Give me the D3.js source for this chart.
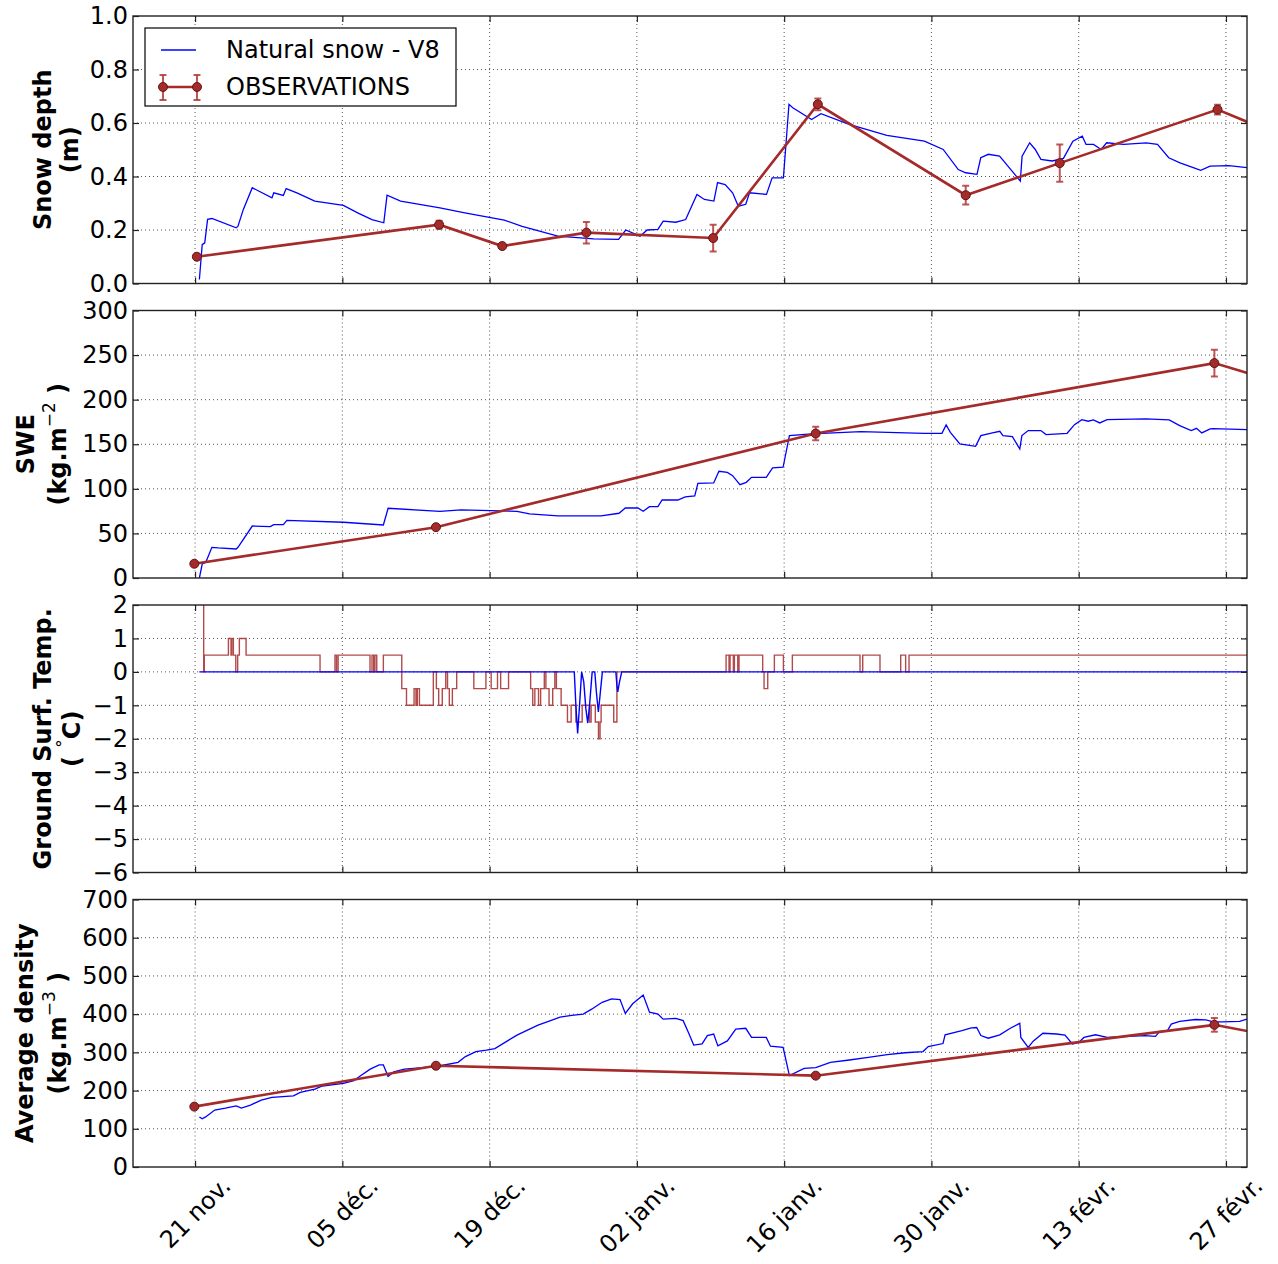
<!DOCTYPE html>
<html><head><meta charset="utf-8">
<script src="https://cdn.jsdelivr.net/npm/d3@7"></script>
<style>
body{margin:0;background:#fff}
svg{display:block}
text{font-family:"DejaVu Sans",sans-serif;fill:#000}
</style>
</head><body>
<svg id="c" width="1278" height="1264"></svg>
<script>
// ---------------- DATA ----------------
// days are counted from 21 nov. 2013 00:00
const baseDate = new Date(2013, 10, 21);
const xRangeDays = [-5.9, 100];
const tickDays = [0, 14, 28, 42, 56, 70, 84, 98];
const tickLabels = ["21 nov.", "05 déc.", "19 déc.", "02 janv.", "16 janv.", "30 janv.", "13 févr.", "27 févr."];

const legendLabels = ["Natural snow - V8", "OBSERVATIONS"];

// Panel 1 : snow depth (m) – model
const depthModel = [[0.41,0.015],[0.68,0.145],[0.92,0.152],[1.19,0.24],[1.6,0.243],[3.91,0.208],[4.08,0.214],[4.59,0.277],[5.44,0.358],[7.31,0.32],[7.48,0.339],[8.39,0.329],[8.66,0.355],[9.68,0.339],[11.38,0.308],[14.1,0.292],[15.46,0.264],[16.82,0.239],[17.94,0.227],[18.25,0.33],[19.54,0.308],[23.28,0.283],[25.65,0.264],[29.39,0.237],[31.09,0.214],[34.49,0.177],[37.89,0.167],[40.26,0.165],[40.94,0.2],[42.3,0.177],[42.98,0.2],[44.0,0.202],[44.5,0.233],[45.7,0.229],[46.64,0.239],[47.71,0.333],[48.42,0.314],[49.32,0.308],[49.67,0.377],[50.39,0.37],[51.1,0.339],[51.64,0.289],[52.35,0.296],[52.71,0.339],[54.32,0.333],[54.86,0.395],[55.93,0.395],[56.46,0.67],[56.82,0.657],[58.61,0.613],[59.5,0.635],[62.18,0.595],[65.76,0.554],[69.33,0.532],[71.12,0.501],[72.55,0.426],[73.26,0.414],[74.33,0.408],[74.69,0.47],[75.41,0.483],[76.48,0.476],[77.55,0.426],[78.45,0.383],[78.62,0.476],[79.34,0.526],[79.87,0.501],[80.41,0.464],[81.48,0.458],[82.55,0.468],[83.45,0.532],[84.34,0.551],[84.7,0.52],[85.41,0.52],[86.13,0.501],[86.66,0.526],[88.27,0.52],[90.42,0.526],[91.49,0.52],[92.56,0.47],[93.63,0.451],[94.89,0.433],[95.6,0.423],[96.49,0.439],[98.28,0.441],[100,0.433]];
const depthObsDays = [0.17, 23.2, 29.2, 37.2, 49.25, 59.2, 73.26, 82.2, 97.2, 104];
const depthObs     = [0.10, 0.22, 0.14, 0.19, 0.17, 0.67, 0.33, 0.45, 0.65, 0.54];
const depthErr     = [0, 0.015, 0, 0.04, 0.05, 0.022, 0.035, 0.07, 0.018, 0];

// Panel 2 : SWE (kg m-2)
const sweModel = [[0.41,0],[0.68,15.7],[1.02,17.6],[1.6,34.4],[2.2,33.7],[3.91,32.5],[4.08,34.4],[5.44,58.3],[7.14,57.6],[7.48,59.8],[8.39,59.8],[8.73,64.7],[14.1,62.5],[17.9,59.5],[18.35,78.2],[23.28,74.8],[25.3,76.3],[30.6,74.8],[31.8,71.8],[34.5,69.6],[38.6,69.6],[40.3,72.6],[40.9,78.5],[42.1,78.5],[42.6,74.8],[43.2,80],[44.0,80],[44.4,87.5],[45.9,87.5],[46.6,91],[47.5,92],[47.8,106.2],[49.3,106.6],[49.8,119.7],[50.6,118.5],[51.1,114.8],[51.8,104.7],[52.4,107.3],[52.9,112.9],[54.3,112.9],[54.9,123.4],[55.9,124.2],[56.5,159.7],[58.6,161.6],[63.3,164.2],[69.3,162.3],[71.0,162.3],[71.4,171.7],[71.8,163.4],[72.7,150.3],[74.2,147.7],[74.7,159.7],[75.8,162.7],[76.5,164.5],[76.8,159.7],[77.7,158.6],[78.4,144.7],[78.6,159.7],[79.2,165.3],[80.4,165.3],[80.9,160.8],[82.9,162.3],[83.6,172],[84.3,177.6],[84.9,175.8],[85.4,177.3],[86.0,173.9],[86.7,177.6],[90.4,178.4],[92.6,177.3],[93.6,170.9],[94.7,165.3],[95.2,167.9],[95.7,162.7],[96.5,167.2],[96.8,167.5],[100,166.4]];
const sweObsDays = [-0.07, 22.9, 59.0, 96.9, 104];
const sweObs     = [16, 57, 162, 241, 216];
const sweErr     = [0, 0, 7.5, 15, 0];

// Panel 3 : ground surface temperature (°C)
const groundModel = [[0.4,0],[36.05,0],[36.2,-1.0],[36.37,-1.84],[36.55,-1.0],[36.75,0],[36.95,-0.3],[37.15,-1.1],[37.33,-1.53],[37.5,-1.0],[37.75,0],[38.0,0],[38.15,-0.6],[38.34,-1.2],[38.5,-0.7],[38.72,0],[40.0,0],[40.1,-0.4],[40.18,-0.6],[40.35,-0.3],[40.56,0],[100,0]];
const groundObs = [[0.75,4],[0.82,0],[0.88,0.5],[3.17,1],[3.42,0.5],[3.49,1],[3.64,0.5],[3.87,0],[4.05,0.5],[4.21,1],[4.85,0.5],[11.88,0],[13.3,0.5],[13.45,0],[13.6,0.5],[16.63,0],[16.82,0.5],[16.98,0],[17.1,0.5],[17.27,0],[17.9,0.5],[19.65,-0.5],[20.1,-1],[20.82,-0.5],[21.0,-1],[21.13,-0.5],[21.33,-1],[22.65,0],[22.94,-0.5],[23.16,-1],[23.5,-0.5],[23.83,0],[24.0,-0.5],[24.17,-1],[24.46,-0.5],[24.87,0],[26.5,-0.5],[27.65,0],[28.15,-0.5],[28.75,0],[29.05,-0.5],[29.8,0],[31.9,-0.5],[32.1,-1],[32.3,-0.5],[32.65,-1],[32.85,-0.5],[33.2,0],[33.35,-0.5],[33.65,-1],[34.0,-0.5],[34.2,0],[34.35,-0.5],[34.8,-1],[35.4,-1.5],[35.75,-1],[36.2,-1.5],[36.8,-1],[37.5,-1.5],[37.65,-1],[38.05,-1.5],[38.35,-2],[38.5,-1.5],[38.6,-1],[39.8,-1.5],[40.1,0],[50.48,0.5],[50.76,0],[50.86,0.5],[51.17,0],[51.27,0.5],[51.59,0],[51.71,0.5],[53.96,0],[54.09,-0.5],[54.44,0],[55.07,0.5],[55.93,0],[56.78,0.5],[63.21,0],[63.47,0.5],[65.11,0],[67.08,0.5],[67.55,0],[67.87,0.5],[101,0.5]];

// Panel 4 : average density (kg m-3)
const densModel = [[0.41,131],[0.68,126],[1.0,131],[1.87,149],[2.89,154],[3.91,160],[4.4,154],[5.27,162],[6.29,175],[7.31,182],[9.35,186],[10.0,195],[11.4,204],[12.1,212],[14.1,219],[15.1,226],[15.8,240],[16.65,256],[17.5,267],[17.9,267],[18.35,237],[18.9,249],[19.9,256],[21.6,260],[23.3,265],[25.0,274],[25.7,289],[26.7,302],[27.7,306],[28.5,310],[29.7,330],[30.6,345],[31.6,358],[32.6,371],[33.6,381],[34.7,392],[35.8,397],[36.9,400],[37.7,413],[38.7,431],[39.6,440],[40.4,438],[40.9,402],[41.6,427],[42.6,450],[43.2,405],[44.0,400],[44.5,387],[45.7,389],[46.4,383],[46.9,352],[47.4,319],[48.2,322],[48.7,344],[49.3,348],[49.7,317],[50.6,330],[51.4,361],[52.35,363],[52.9,339],[54.3,339],[54.7,316],[55.9,313],[56.5,239],[57.9,258],[59.0,260],[60.4,274],[62.2,280],[64.0,287],[65.8,294],[67.5,299],[69.2,302],[69.7,315],[71.1,323],[71.3,346],[72.9,357],[73.8,364],[74.3,365],[74.7,344],[75.4,337],[76.5,346],[77.5,363],[78.4,376],[78.5,339],[79.2,313],[79.7,330],[80.6,350],[81.9,348],[82.7,345],[83.4,322],[84.0,326],[84.5,339],[85.6,346],[86.7,339],[90.3,344],[91.3,342],[91.7,355],[92.4,355],[92.8,374],[93.6,381],[95.1,386],[96.1,385],[96.8,380],[97.6,380],[99.3,381],[100,387]];
const densObsDays = [-0.07, 22.9, 59.0, 96.9, 104];
const densObs     = [158, 265, 239, 372, 335];
const densErr     = [0, 0, 0, 18, 0];

const yTicks1 = [0, 0.2, 0.4, 0.6, 0.8, 1.0];
const yTicks2 = [0, 50, 100, 150, 200, 250, 300];
const yTicks3 = [-6, -5, -4, -3, -2, -1, 0, 1, 2];
const yTicks4 = [0, 100, 200, 300, 400, 500, 600, 700];

const titles1 = [["Snow depth"], ["(m)"]];
const titles2 = [["SWE"], ["(kg.m", "^−2", " )"]];
const titles3 = [["Ground Surf. Temp."], ["( ", "^°", "C)"]];
const titles4 = [["Average density"], ["(kg.m", "^−3", " )"]];

// ---------------- LAYOUT ----------------
const L = 133, R = 1247, PH = 267.5;
const FS = 24;
const BLUE = "#0000ff", RED = "#a52a2a";
const svg = d3.select("#c");
const defs = svg.append("defs");
const toDate = d => new Date(baseDate.getTime() + d * 864e5);
const x = d3.scaleTime().domain(xRangeDays.map(toDate)).range([L, R]);

const panels = [
  {top: 16,    domain: [0, 1],    ticks: yTicks1, fmt: d3.format(".1f"), model: depthModel, od: depthObsDays, ov: depthObs, oe: depthErr, titles: titles1, tx: [51, 78]},
  {top: 310.5, domain: [0, 300],  ticks: yTicks2, fmt: d3.format("d"),   model: sweModel,   od: sweObsDays,   ov: sweObs,   oe: sweErr,   titles: titles2, tx: [34, 66]},
  {top: 605,   domain: [-6, 2],   ticks: yTicks3, fmt: d3.format("d"),   model: groundModel, step: groundObs, titles: titles3, tx: [51, 80]},
  {top: 899.5, domain: [0, 700],  ticks: yTicks4, fmt: d3.format("d"),   model: densModel,  od: densObsDays,  ov: densObs,  oe: densErr,  titles: titles4, tx: [33, 66]}
];

function drawTitle(lines, xs, cy) {
  lines.forEach((parts, li) => {
    const t = svg.append("text")
      .attr("transform", `translate(${xs[li]},${cy}) rotate(-90)`)
      .attr("text-anchor", "middle").attr("font-size", FS).attr("font-weight", "bold");
    let up = false;
    parts.forEach(p => {
      const sup = p.startsWith("^");
      const ts = t.append("tspan").text(sup ? p.slice(1) : p);
      if (sup) { ts.attr("font-size", 17).attr("font-weight", "normal").attr("dy", -11); up = true; }
      else if (up) { ts.attr("dy", 11); up = false; }
    });
  });
}

panels.forEach((p, i) => {
  const y = d3.scaleLinear().domain(p.domain).range([p.top + PH, p.top]);
  const g = svg.append("g");
  defs.append("clipPath").attr("id", "clip" + i)
    .append("rect").attr("x", L).attr("y", p.top).attr("width", R - L).attr("height", PH);

  // grid
  const grid = g.append("g").attr("stroke", "#555").attr("stroke-width", 1).attr("stroke-dasharray", "1,3");
  p.ticks.slice(1, -1).forEach(t => grid.append("line").attr("x1", L).attr("x2", R).attr("y1", y(t)).attr("y2", y(t)));
  tickDays.forEach(d => grid.append("line").attr("x1", x(toDate(d))).attr("x2", x(toDate(d))).attr("y1", p.top).attr("y2", p.top + PH));

  const plot = g.append("g").attr("clip-path", `url(#clip${i})`);
  const line = d3.line().x(d => x(toDate(d[0]))).y(d => y(d[1]));

  if (p.step) {
    plot.append("path").datum(p.step)
      .attr("d", d3.line().curve(d3.curveStepAfter).x(d => x(toDate(d[0]))).y(d => y(d[1])))
      .attr("fill", "none").attr("stroke", RED).attr("stroke-width", 1.4).attr("stroke-opacity", 0.85);
    plot.append("path").datum(p.model).attr("d", line)
      .attr("fill", "none").attr("stroke", BLUE).attr("stroke-width", 1.4);
  } else {
    plot.append("path").datum(p.model).attr("d", line)
      .attr("fill", "none").attr("stroke", BLUE).attr("stroke-width", 1.3);
    const obs = p.od.map((d, k) => ({d, v: p.ov[k], e: p.oe[k]}));
    plot.append("path").datum(obs)
      .attr("d", d3.line().x(o => x(toDate(o.d))).y(o => y(o.v)))
      .attr("fill", "none").attr("stroke", RED).attr("stroke-width", 2.6);
    const eb = plot.append("g").attr("stroke", "#b23a3a").attr("stroke-width", 2).attr("stroke-opacity", 0.85);
    obs.filter(o => o.e > 0).forEach(o => {
      const cx = x(toDate(o.d));
      eb.append("line").attr("x1", cx).attr("x2", cx).attr("y1", y(o.v - o.e)).attr("y2", y(o.v + o.e));
      eb.append("line").attr("x1", cx - 3.5).attr("x2", cx + 3.5).attr("y1", y(o.v - o.e)).attr("y2", y(o.v - o.e));
      eb.append("line").attr("x1", cx - 3.5).attr("x2", cx + 3.5).attr("y1", y(o.v + o.e)).attr("y2", y(o.v + o.e));
    });
    plot.selectAll("circle.m").data(obs).join("circle")
      .attr("cx", o => x(toDate(o.d))).attr("cy", o => y(o.v)).attr("r", 4.5)
      .attr("fill", RED).attr("stroke", "#5e1616").attr("stroke-width", 1);
  }

  // axes (inward ticks)
  const tv = tickDays.map(toDate);
  const styleAx = a => { a.select(".domain").remove(); a.selectAll(".tick line").attr("stroke", "#222").attr("stroke-width", 1.2); };
  const ay = g.append("g").attr("transform", `translate(${L},0)`)
    .call(d3.axisLeft(y).tickValues(p.ticks).tickFormat(p.fmt).tickSize(-6).tickPadding(5));
  styleAx(ay);
  ay.selectAll("text").attr("font-size", FS).attr("font-family", "DejaVu Sans").attr("fill", "#000");
  styleAx(g.append("g").attr("transform", `translate(${R},0)`).call(d3.axisRight(y).tickValues(p.ticks).tickFormat("").tickSize(-6)));
  styleAx(g.append("g").attr("transform", `translate(0,${p.top + PH})`).call(d3.axisBottom(x).tickValues(tv).tickFormat("").tickSize(-6)));
  styleAx(g.append("g").attr("transform", `translate(0,${p.top})`).call(d3.axisTop(x).tickValues(tv).tickFormat("").tickSize(-6)));

  // frame
  g.append("rect").attr("x", L).attr("y", p.top).attr("width", R - L).attr("height", PH)
    .attr("fill", "none").attr("stroke", "#222").attr("stroke-width", 1.4);

  drawTitle(p.titles, p.tx, p.top + PH / 2);
});

// x tick labels on bottom panel
const bottom = panels[3].top + PH;
tickDays.forEach((d, k) => {
  const t = svg.append("text").attr("text-anchor", "middle").attr("font-size", FS).attr("dy", "0.35em").text(tickLabels[k]);
  const w = t.node().getComputedTextLength();
  const cy = bottom + 6 + (w + FS) * Math.SQRT1_2 / 2;
  t.attr("transform", `translate(${x(toDate(d))},${cy}) rotate(-45)`);
});

// legend
const lg = svg.append("g");
lg.append("rect").attr("x", 145).attr("y", 28).attr("width", 311).attr("height", 78)
  .attr("fill", "#fff").attr("stroke", "#000").attr("stroke-width", 1.2);
lg.append("line").attr("x1", 161).attr("x2", 196).attr("y1", 50).attr("y2", 50).attr("stroke", BLUE).attr("stroke-width", 1.3);
lg.append("text").attr("x", 226).attr("y", 50).attr("dy", "0.35em").attr("font-size", FS).text(legendLabels[0]);
lg.append("line").attr("x1", 163).attr("x2", 197).attr("y1", 87).attr("y2", 87).attr("stroke", RED).attr("stroke-width", 2.6);
[163, 197].forEach(cx => {
  lg.append("line").attr("x1", cx).attr("x2", cx).attr("y1", 75).attr("y2", 100).attr("stroke", "#b23a3a").attr("stroke-width", 2).attr("stroke-opacity", 0.85);
  lg.append("line").attr("x1", cx - 3.5).attr("x2", cx + 3.5).attr("y1", 75).attr("y2", 75).attr("stroke", "#b23a3a").attr("stroke-width", 2).attr("stroke-opacity", 0.85);
  lg.append("line").attr("x1", cx - 3.5).attr("x2", cx + 3.5).attr("y1", 100).attr("y2", 100).attr("stroke", "#b23a3a").attr("stroke-width", 2).attr("stroke-opacity", 0.85);
  lg.append("circle").attr("cx", cx).attr("cy", 87).attr("r", 4.5).attr("fill", RED).attr("stroke", "#5e1616").attr("stroke-width", 1);
});
lg.append("text").attr("x", 226).attr("y", 87).attr("dy", "0.35em").attr("font-size", FS).text(legendLabels[1]);
</script>
</body></html>
